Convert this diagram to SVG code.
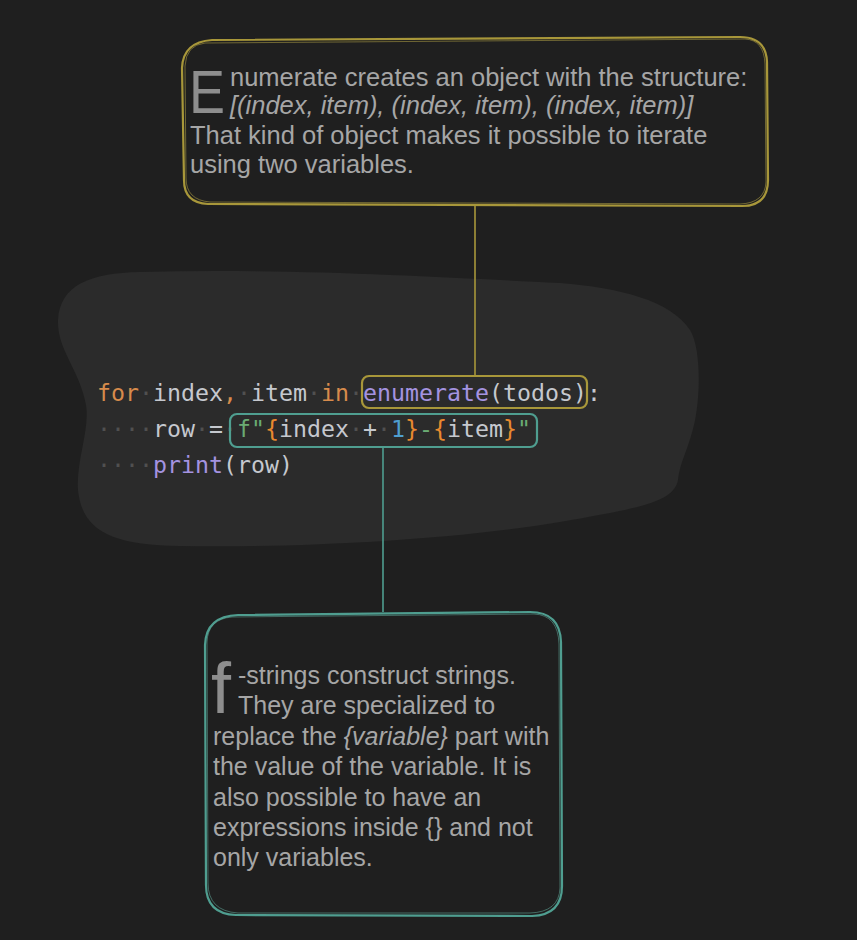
<svg xmlns="http://www.w3.org/2000/svg" width="857" height="940" viewBox="0 0 857 940">
<style>
.note{font-family:"Liberation Sans",Arial,Helvetica,sans-serif;font-size:25px;fill:#a6a6a6}
.big{font-size:25.5px}
.cap{font-family:"Liberation Sans",Arial,Helvetica,sans-serif;fill:#8e8e8e}
.it{font-style:italic}
.code{font-family:"DejaVu Sans Mono","Liberation Mono",monospace;font-size:23.25px;fill:#c5c8ce}
.kw{fill:#d78b4c}.br{fill:#e8892f}.fn{fill:#a493e0}.str{fill:#6aab73}.num{fill:#4f9fcf}.ws{fill:#505050}
.gold{fill:none;stroke:#a8973a;stroke-width:2.2;stroke-linejoin:round}
.gold2{fill:none;stroke:#c2b04a;stroke-width:1;opacity:.5}
.teal{fill:none;stroke:#4f9e90;stroke-width:2.2;stroke-linejoin:round}
.teal2{fill:none;stroke:#68b8a8;stroke-width:1;opacity:.5}
</style>
<rect x="0" y="0" width="857" height="940" fill="#1f1f1f"/>
<path d="M 140 272 C 300 268, 450 278, 560 283 C 620 288, 670 300, 690 330 C 702 350, 700 400, 694 425 C 688 450, 680 462, 678 480 C 674 502, 640 508, 560 522 C 450 540, 300 548, 180 546 C 110 545, 82 530, 78 490 C 76 460, 90 430, 86 405 C 80 370, 57 350, 58 320 C 60 285, 90 273, 140 272 Z" fill="#2b2b2b"/>
<g id="connectors">
<line x1="475" y1="206" x2="475" y2="376" stroke="#a8973a" stroke-width="1.6"/>
<line x1="383" y1="447" x2="383" y2="612" stroke="#4f9e90" stroke-width="1.6"/>
</g>
<g id="node-enumerate-note">
<path class="gold" d="M 212 40 L 740 37 Q 766 37 767 62 L 768 180 Q 768 206 742 206 L 208 204 Q 184 203 184 180 L 182 68 Q 183 42 212 40 Z"/>
<path class="gold2" d="M 205 43 L 745 39 Q 764 40 765 64 L 766 182 Q 765 203 740 204 L 210 202 Q 186 200 186 178 L 185 66 Q 186 45 205 43 Z"/>
<text class="cap" x="189" y="113" font-size="62" textLength="36" lengthAdjust="spacingAndGlyphs">E</text>
<text class="note big" x="230" y="86">numerate creates an object with the structure:</text>
<text class="note big it" x="230" y="114">[(index, item), (index, item), (index, item)]</text>
<text class="note big" x="190" y="144">That kind of object makes it possible to iterate</text>
<text class="note big" x="190" y="173">using two variables.</text>
</g>
<g id="node-code">
<text class="code" x="97" y="401" xml:space="preserve"><tspan class="kw">for</tspan><tspan class="ws">·</tspan>index<tspan class="kw">,</tspan><tspan class="ws">·</tspan>item<tspan class="ws">·</tspan><tspan class="kw">in</tspan><tspan class="ws">·</tspan><tspan class="fn">enumerate</tspan>(todos):</text>
<text class="code" x="97" y="437" xml:space="preserve"><tspan class="ws">····</tspan>row<tspan class="ws">·</tspan>=<tspan class="ws">·</tspan><tspan class="str">f"</tspan><tspan class="br">{</tspan>index<tspan class="ws">·</tspan>+<tspan class="ws">·</tspan><tspan class="num">1</tspan><tspan class="br">}</tspan><tspan class="str">-</tspan><tspan class="br">{</tspan>item<tspan class="br">}</tspan><tspan class="str">"</tspan></text>
<text class="code" x="97" y="473" xml:space="preserve"><tspan class="ws">····</tspan><tspan class="fn">print</tspan>(row)</text>
</g>
<g id="node-enumerate-highlight">
<rect class="gold" x="362" y="376" width="225" height="32" rx="7" stroke="#b6a33d" stroke-width="2.6"/>
</g>
<g id="node-fstring-highlight">
<rect class="teal" x="230" y="414" width="307" height="33" rx="7" stroke-width="2.6"/>
</g>
<g id="node-fstring-note">
<path class="teal" d="M 238 615 L 530 612 Q 560 612 561 642 L 562 886 Q 562 915 532 916 L 236 915 Q 206 914 206 885 L 205 645 Q 206 616 238 615 Z"/>
<path class="teal2" d="M 232 617 L 534 614 Q 558 615 559 644 L 560 888 Q 559 912 530 913 L 238 913 Q 208 911 208 883 L 207 642 Q 208 619 232 617 Z"/>
<text class="cap" x="211" y="713" font-size="72">f</text>
<text class="note" x="238" y="684">-strings construct strings.</text>
<text class="note" x="238" y="714">They are specialized to</text>
<text class="note" x="213" y="745">replace the <tspan class="it">{variable}</tspan> part with</text>
<text class="note" x="213" y="775">the value of the variable. It is</text>
<text class="note" x="213" y="806">also possible to have an</text>
<text class="note" x="213" y="836">expressions inside {} and not</text>
<text class="note" x="213" y="866">only variables.</text>
</g>
</svg>
